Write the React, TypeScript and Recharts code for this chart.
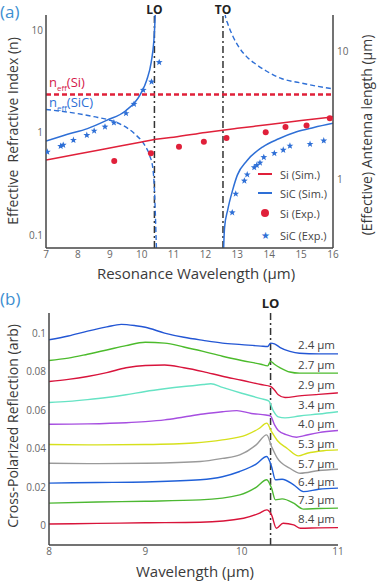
import React from "react";
import { ComposedChart, LineChart, Line, Scatter, XAxis, YAxis, ReferenceLine } from "recharts";

// ---- panel (a): refractive index (left axis) and antenna length (right axis) ----
const nSiW = [7, 16];
const nSi = [2.35, 2.35];

const nSicLoW = [7, 7.5, 8, 8.5, 9, 9.4, 9.8, 10.1, 10.25, 10.35, 10.4, 10.43, 10.46, 10.48];
const nSicLo = [1.68, 1.61, 1.53, 1.43, 1.32, 1.18, 0.96, 0.75, 0.6, 0.45, 0.28, 0.16, 0.08, 0.06];
const nSicHiW = [12.57, 12.62, 12.7, 12.86, 13.05, 13.29, 13.6, 13.92, 14.4, 14.96, 15.5, 16];
const nSicHi = [25, 14, 11.5, 8.7, 6.8, 5.5, 4.6, 3.96, 3.35, 3.06, 2.83, 2.67];

const siSimW = [7, 8, 9, 10, 10.44, 11, 12, 12.54, 13, 14, 15, 16];
const siSimL = [1.42, 1.58, 1.76, 1.96, 2.06, 2.14, 2.33, 2.43, 2.51, 2.69, 2.89, 3.09];

const sicSimLoW = [7, 7.65, 8.3, 8.9, 9.5, 9.95, 10.16, 10.3, 10.38, 10.42, 10.45];
const sicSimLo = [2.0, 2.25, 2.5, 2.9, 3.45, 4.6, 6.0, 8.3, 12, 18, 30];
const sicSimHiW = [12.55, 12.6, 12.7, 12.85, 13.0, 13.3, 13.8, 14.3, 14.86, 15.4, 16];
const sicSimHi = [0.2, 0.42, 0.58, 0.82, 1.08, 1.4, 1.8, 2.08, 2.36, 2.55, 2.75];

const siExpW = [9.14, 10.29, 11.17, 11.95, 12.66, 13.89, 14.51, 15.17, 15.9];
const siExpL = [1.39, 1.6, 1.8, 1.97, 2.11, 2.34, 2.57, 2.64, 3.01];

const sicExpW = [7.04, 7.46, 7.54, 7.86, 8.28, 8.51, 8.85, 9.13, 9.51, 9.76, 10.05, 10.31, 10.55,
  12.84, 12.95, 13.22, 13.31, 13.53, 13.61, 13.71, 13.83, 14.16, 14.44, 14.65, 15.28, 15.71];
const sicExpL = [1.64, 1.82, 1.86, 2.03, 2.22, 2.4, 2.58, 2.78, 3.29, 3.89, 5.01, 5.82, 8.26,
  0.55, 0.77, 0.975, 1.09, 1.24, 1.29, 1.35, 1.49, 1.6, 1.7, 1.83, 1.89, 2.01];

const aTicksX = [7, 8, 9, 10, 11, 12, 13, 14, 15, 16];
const aTicksN = [0.1, 1, 10];
const aTicksL = [1, 10];
const LO_A = 10.4;
const TO_A = 12.55;

// ---- panel (b): cross-polarized reflection spectra ----
const LO_B = 10.3;
const bTicksX = [8, 9, 10, 11];
const bTicksY = [0, 0.02, 0.04, 0.06, 0.08, 0.1];

const w24 = [8, 8.2, 8.4, 8.6, 8.75, 8.9, 9, 9.2, 9.4, 9.6, 9.8, 10, 10.2, 10.27, 10.3, 10.34, 10.4, 10.5, 10.6, 10.8, 11];
const r24 = [0.0965, 0.0985, 0.101, 0.1032, 0.1045, 0.1038, 0.103, 0.1, 0.0978, 0.0962, 0.0948, 0.094, 0.0932, 0.093, 0.0948, 0.0944, 0.0925, 0.0905, 0.0895, 0.0892, 0.0892];
const w27 = [8, 8.2, 8.4, 8.6, 8.8, 9, 9.2, 9.4, 9.6, 9.8, 10, 10.2, 10.27, 10.3, 10.34, 10.4, 10.5, 10.6, 10.8, 11];
const r27 = [0.0858, 0.087, 0.089, 0.0912, 0.0935, 0.0952, 0.0948, 0.0928, 0.0905, 0.088, 0.0858, 0.0838, 0.083, 0.0853, 0.0838, 0.082, 0.0798, 0.0792, 0.0792, 0.0792];
const w29 = [8, 8.2, 8.4, 8.6, 8.8, 9, 9.2, 9.4, 9.6, 9.8, 10, 10.2, 10.3, 10.34, 10.38, 10.45, 10.6, 10.8, 11];
const r29 = [0.0749, 0.076, 0.0775, 0.0795, 0.082, 0.0832, 0.0834, 0.082, 0.08, 0.0776, 0.0755, 0.0733, 0.0723, 0.0705, 0.068, 0.0666, 0.0674, 0.0682, 0.069];
const w34 = [8, 8.2, 8.4, 8.6, 8.8, 9, 9.2, 9.4, 9.6, 9.68, 9.8, 10, 10.2, 10.28, 10.33, 10.38, 10.45, 10.6, 10.8, 11];
const r34 = [0.064, 0.0646, 0.0655, 0.0666, 0.068, 0.0697, 0.0711, 0.0723, 0.0733, 0.0737, 0.0718, 0.0688, 0.066, 0.0648, 0.0595, 0.0565, 0.056, 0.057, 0.058, 0.0592];
const w40 = [8, 8.4, 8.8, 9, 9.2, 9.4, 9.6, 9.8, 9.95, 10.1, 10.25, 10.3, 10.34, 10.38, 10.47, 10.57, 10.64, 10.8, 11];
const r40 = [0.0527, 0.0529, 0.0535, 0.0541, 0.055, 0.0565, 0.058, 0.0592, 0.0598, 0.0583, 0.0575, 0.057, 0.0525, 0.0495, 0.0472, 0.046, 0.0467, 0.0484, 0.0495];
const w53 = [8, 8.5, 9, 9.5, 9.8, 10.05, 10.18, 10.26, 10.31, 10.37, 10.47, 10.59, 10.68, 10.85, 11];
const r53 = [0.0422, 0.042, 0.0422, 0.043, 0.0446, 0.0472, 0.0505, 0.0533, 0.0489, 0.0443, 0.0403, 0.0363, 0.0377, 0.039, 0.0394];
const w57 = [8, 8.5, 9, 9.57, 9.8, 9.98, 10.15, 10.26, 10.31, 10.37, 10.5, 10.61, 10.8, 11];
const r57 = [0.0325, 0.0323, 0.0325, 0.0334, 0.035, 0.0368, 0.042, 0.0472, 0.0412, 0.0351, 0.0299, 0.0273, 0.0287, 0.0294];
const w64 = [8, 8.5, 9, 9.57, 9.8, 9.98, 10.15, 10.26, 10.31, 10.35, 10.42, 10.54, 10.64, 10.8, 11];
const r64 = [0.0222, 0.0225, 0.0228, 0.0239, 0.0255, 0.0282, 0.032, 0.036, 0.0308, 0.0239, 0.0242, 0.0213, 0.0178, 0.019, 0.0196];
const w73 = [8, 8.5, 9, 9.57, 9.98, 10.15, 10.26, 10.31, 10.35, 10.42, 10.54, 10.64, 10.8, 11];
const r73 = [0.0118, 0.0124, 0.0128, 0.0135, 0.0161, 0.02, 0.0239, 0.0196, 0.0135, 0.014, 0.0118, 0.0087, 0.009, 0.0092];
const w84 = [8, 8.5, 9, 9.57, 10.02, 10.18, 10.26, 10.31, 10.36, 10.43, 10.54, 10.61, 10.8, 11];
const r84 = [0.001, 0.0013, 0.0016, 0.0019, 0.004, 0.0065, 0.0083, 0.0057, -0.0012, 0.0014, 0.0005, -0.0012, -0.001, -0.0009];

const sizes = ["2.4 μm", "2.7 μm", "2.9 μm", "3.4 μm", "4.0 μm", "5.3 μm", "5.7 μm", "6.4 μm", "7.3 μm", "8.4 μm"];

const zip = (w: number[], v: number[]) => w.map((x, i) => ({ w: x, v: v[i] }));

const RED = "#e0203a";
const BLUE = "#2e6fd6";
const AXIS = "#444";
const tickStyle = { fontSize: 10, fill: "#666" };

const spectra = [
  { w: w24, r: r24, color: "#2356d4" },
  { w: w27, r: r27, color: "#4cbb2c" },
  { w: w29, r: r29, color: "#d8143c" },
  { w: w34, r: r34, color: "#66e3c4" },
  { w: w40, r: r40, color: "#a64ee0" },
  { w: w53, r: r53, color: "#d6e01c" },
  { w: w57, r: r57, color: "#9a9a9a" },
  { w: w64, r: r64, color: "#2060d8" },
  { w: w73, r: r73, color: "#4cb832" },
  { w: w84, r: r84, color: "#d8143a" },
];
const labelTops = [345, 365, 385, 405, 424, 444, 464, 482, 500, 519];

function Star(props: any) {
  const { cx, cy } = props;
  const pts: string[] = [];
  for (let i = 0; i < 10; i++) {
    const r = i % 2 === 0 ? 3.6 : 1.5;
    const a = -Math.PI / 2 + (i * Math.PI) / 5;
    pts.push(`${cx + r * Math.cos(a)},${cy + r * Math.sin(a)}`);
  }
  return <polygon points={pts.join(" ")} fill={BLUE} />;
}

function Dot(props: any) {
  return <circle cx={props.cx} cy={props.cy} r={3} fill={RED} />;
}

const abs = (left: number, top: number, extra: React.CSSProperties = {}): React.CSSProperties => ({
  position: "absolute",
  left,
  top,
  whiteSpace: "pre",
  ...extra,
});

const vTitle = (cx: number, cy: number): React.CSSProperties => ({
  position: "absolute",
  left: cx,
  top: cy,
  transform: "translate(-50%, -50%) rotate(-90deg)",
  whiteSpace: "pre",
  fontSize: 14,
  color: "#3a3a3a",
});

const hTitle = (cx: number, cy: number): React.CSSProperties => ({
  position: "absolute",
  left: cx,
  top: cy,
  transform: "translate(-50%, -50%)",
  whiteSpace: "pre",
  fontSize: 15,
  color: "#3a3a3a",
});

function LegendRow({ top, kind, label }: { top: number; kind: string; label: string }) {
  let sym: React.ReactNode = null;
  if (kind === "siLine") sym = <div style={{ width: 14, height: 2, background: RED }} />;
  if (kind === "sicLine") sym = <div style={{ width: 14, height: 1.5, background: BLUE }} />;
  if (kind === "siDot") sym = <div style={{ width: 8, height: 8, borderRadius: 4, background: RED, marginLeft: 3 }} />;
  if (kind === "sicStar") sym = <div style={{ color: BLUE, fontSize: 10, marginLeft: 3 }}>★</div>;
  return (
    <div style={{ position: "absolute", left: 258, top: top - 8, height: 16, display: "flex", alignItems: "center" }}>
      <div style={{ width: 20 }}>{sym}</div>
      <span style={{ fontSize: 11, color: "#444", marginLeft: 2 }}>{label}</span>
    </div>
  );
}

export default function App() {
  return (
    <div
      style={{
        position: "absolute",
        left: 0,
        top: 0,
        width: 378,
        height: 582,
        background: "#fff",
        overflow: "hidden",
        fontFamily: "'Open Sans', 'Noto Sans', sans-serif",
      }}
    >
      <ComposedChart width={378} height={290} margin={{ top: 15, right: 15, bottom: 8, left: 16 }} style={{ position: "absolute", left: 0, top: 0 }}>
        <XAxis xAxisId="tk" type="number" dataKey="w" domain={[7, 16]} ticks={aTicksX} allowDataOverflow mirror height={0} tick={false} axisLine={false} tickSize={4} stroke={AXIS} />
        <XAxis type="number" dataKey="w" domain={[7, 16]} ticks={aTicksX} allowDataOverflow height={34} tickLine={false} tickSize={0} tickMargin={3} tick={tickStyle} axisLine={{ stroke: AXIS, strokeWidth: 1.5 }} />
        <XAxis xAxisId="top" orientation="top" type="number" dataKey="w" domain={[7, 16]} ticks={aTicksX} allowDataOverflow mirror height={0} tick={false} tickSize={4} stroke={AXIS} axisLine={{ stroke: AXIS, strokeWidth: 1.5 }} />
        <YAxis yAxisId="ntk" type="number" scale="log" domain={[0.075, 14]} ticks={aTicksN} allowDataOverflow mirror width={0} tick={false} axisLine={false} tickSize={4} stroke={AXIS} />
        <YAxis yAxisId="n" type="number" scale="log" domain={[0.075, 14]} ticks={aTicksN} allowDataOverflow width={30} tickLine={false} tickSize={0} tickMargin={3} tick={tickStyle} axisLine={{ stroke: AXIS, strokeWidth: 1.5 }} />
        <YAxis yAxisId="ltk" orientation="right" type="number" scale="log" domain={[0.29, 19.4]} ticks={aTicksL} allowDataOverflow mirror width={0} tick={false} axisLine={false} tickSize={4} stroke={AXIS} />
        <YAxis yAxisId="len" orientation="right" type="number" scale="log" domain={[0.29, 19.4]} ticks={aTicksL} allowDataOverflow width={30} tickLine={false} tickSize={0} tickMargin={4} tick={tickStyle} axisLine={{ stroke: AXIS, strokeWidth: 1.5 }} />

        <ReferenceLine x={LO_A} yAxisId="n" stroke="#333" strokeWidth={1.5} strokeDasharray="7 3 2 3" label={{ value: "LO", position: "top", offset: 1, fill: "#222", fontSize: 12, fontWeight: "bold" }} />
        <ReferenceLine x={TO_A} yAxisId="n" stroke="#333" strokeWidth={1.5} strokeDasharray="7 3 2 3" label={{ value: "TO", position: "top", offset: 1, fill: "#222", fontSize: 12, fontWeight: "bold" }} />

        <Line yAxisId="n" data={zip(nSiW, nSi)} dataKey="v" stroke={RED} strokeWidth={2.5} strokeDasharray="5 3" dot={false} isAnimationActive={false} />
        <Line yAxisId="n" data={zip(nSicLoW, nSicLo)} dataKey="v" type="monotone" stroke={BLUE} strokeWidth={1.4} strokeDasharray="5 3" dot={false} isAnimationActive={false} />
        <Line yAxisId="n" data={zip(nSicHiW, nSicHi)} dataKey="v" type="monotone" stroke={BLUE} strokeWidth={1.4} strokeDasharray="5 3" dot={false} isAnimationActive={false} />
        <Line yAxisId="len" data={zip(siSimW, siSimL)} dataKey="v" type="monotone" stroke={RED} strokeWidth={1.5} dot={false} isAnimationActive={false} />
        <Line yAxisId="len" data={zip(sicSimLoW, sicSimLo)} dataKey="v" type="monotone" stroke={BLUE} strokeWidth={1.5} dot={false} isAnimationActive={false} />
        <Line yAxisId="len" data={zip(sicSimHiW, sicSimHi)} dataKey="v" type="monotone" stroke={BLUE} strokeWidth={1.5} dot={false} isAnimationActive={false} />
        <Scatter yAxisId="len" data={zip(siExpW, siExpL)} dataKey="v" shape={<Dot />} isAnimationActive={false} />
        <Scatter yAxisId="len" data={zip(sicExpW, sicExpL)} dataKey="v" shape={<Star />} isAnimationActive={false} />
      </ComposedChart>

      <LineChart width={378} height={292} margin={{ top: 23, right: 40, bottom: 13, left: 15 }} style={{ position: "absolute", left: 0, top: 290 }}>
        <XAxis xAxisId="tk" type="number" dataKey="w" domain={[8, 11]} ticks={bTicksX} allowDataOverflow mirror height={0} tick={false} axisLine={false} tickSize={4} stroke={AXIS} />
        <XAxis type="number" dataKey="w" domain={[8, 11]} ticks={bTicksX} allowDataOverflow height={24} tickLine={false} tickSize={0} tickMargin={3} tick={tickStyle} axisLine={{ stroke: AXIS, strokeWidth: 1.5 }} />
        <XAxis xAxisId="top" orientation="top" type="number" dataKey="w" domain={[8, 11]} ticks={bTicksX} allowDataOverflow mirror height={0} tick={false} tickSize={4} stroke={AXIS} axisLine={{ stroke: AXIS, strokeWidth: 1.5 }} />
        <YAxis yAxisId="tk" type="number" domain={[-0.0099, 0.1104]} ticks={bTicksY} allowDataOverflow mirror width={0} tick={false} axisLine={false} tickSize={4} stroke={AXIS} />
        <YAxis type="number" domain={[-0.0099, 0.1104]} ticks={bTicksY} allowDataOverflow width={34} tickLine={false} tickSize={0} tickMargin={3} tick={tickStyle} axisLine={{ stroke: AXIS, strokeWidth: 1.5 }} />
        <YAxis yAxisId="r" orientation="right" type="number" domain={[-0.0099, 0.1104]} ticks={bTicksY} allowDataOverflow mirror width={0} tick={false} tickSize={4} stroke={AXIS} axisLine={{ stroke: AXIS, strokeWidth: 1.5 }} />

        <ReferenceLine x={LO_B} stroke="#333" strokeWidth={1.5} strokeDasharray="7 3 2 3" label={{ value: "LO", position: "top", offset: 5, fill: "#222", fontSize: 13, fontWeight: "bold" }} />

        {spectra.map((s, i) => (
          <Line key={i} data={zip(s.w, s.r)} dataKey="v" type="monotone" stroke={s.color} strokeWidth={1.4} dot={false} isAnimationActive={false} />
        ))}
      </LineChart>

      {/* annotations */}
      <div style={abs(0, 0, { fontSize: 17, color: "#3d8fd1" })}>(a)</div>
      <div style={abs(0, 287, { fontSize: 17, color: "#3d8fd1" })}>(b)</div>
      <div style={abs(49, 73, { fontSize: 13, color: "#d4184a" })}>
        n<sub style={{ fontSize: 8 }}>eff</sub>(Si)
      </div>
      <div style={abs(49, 93, { fontSize: 13, color: BLUE })}>
        n<sub style={{ fontSize: 8 }}>eff</sub>(SiC)
      </div>

      <div style={vTitle(12, 131)}>Effective  Refractive Index (n)</div>
      <div style={vTitle(366, 135)}>(Effective) Antenna length (μm)</div>
      <div style={hTitle(196, 273)}>Resonance Wavelength (μm)</div>

      <LegendRow top={174} kind="siLine" label="Si (Sim.)" />
      <LegendRow top={193} kind="sicLine" label="SiC (Sim.)" />
      <LegendRow top={213} kind="siDot" label="Si (Exp.)" />
      <LegendRow top={235} kind="sicStar" label="SiC (Exp.)" />

      <div style={vTitle(12, 426)}>Cross-Polarized Reflection (arb)</div>
      <div style={hTitle(195, 571)}>Wavelength (μm)</div>

      {sizes.map((s, i) => (
        <div key={s} style={{ position: "absolute", right: 378 - 335, top: labelTops[i] - 8, fontSize: 11.5, color: "#444", whiteSpace: "pre" }}>
          {s}
        </div>
      ))}
    </div>
  );
}
